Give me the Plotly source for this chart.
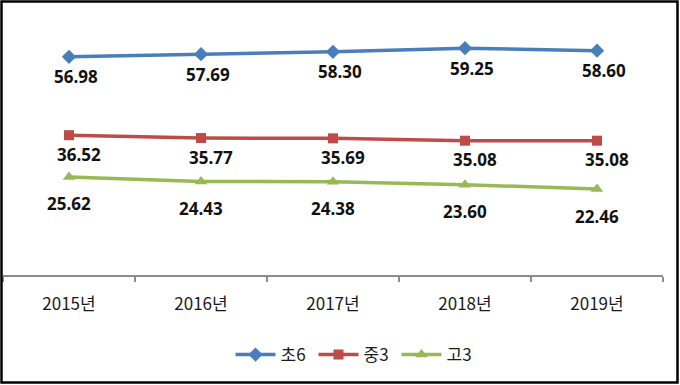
import plotly.graph_objects as go

years = ["2015년", "2016년", "2017년", "2018년", "2019년"]
s_cho6 = [56.98, 57.69, 58.30, 59.25, 58.60]
s_jung3 = [36.52, 35.77, 35.69, 35.08, 35.08]
s_go3 = [25.62, 24.43, 24.38, 23.60, 22.46]

# name, values, colour, marker symbol, marker size, label x-shift, label y-shift
series = [
    ("초6", s_cho6, "#4A7EBB", "diamond", 11, 7, -20),
    ("중3", s_jung3, "#BE4B48", "square", 10, 10, -19),
    ("고3", s_go3, "#98B954", "triangle-up", 11, 0, -27),
]

fig = go.Figure()
annotations = []
for name, vals, color, sym, msize, dx, dy in series:
    fig.add_trace(go.Scatter(
        x=years, y=vals, name=name, mode="lines+markers",
        line=dict(color=color, width=3.5),
        marker=dict(symbol=sym, size=msize, color=color),
        hoverinfo="skip",
    ))
    for yr, v in zip(years, vals):
        annotations.append(dict(
            x=yr, y=v, xref="x", yref="y", text=f"{v:.2f}", showarrow=False,
            xshift=dx, yshift=dy, xanchor="center", yanchor="middle",
            font=dict(family="Open Sans, Liberation Sans, sans-serif", size=17, color="#111111", weight="bold"),
        ))

L, R, T, B = 3, 17, 7, 110
W, H = 680, 385
pw, ph = W - L - R, H - T - B

def px_x(p):
    return (p - L) / pw

def px_y(p):
    return (H - B - p) / ph

fig.update_layout(
    width=W, height=H,
    margin=dict(l=L, r=R, t=T, b=B),
    paper_bgcolor="white", plot_bgcolor="white",
    showlegend=True,
    annotations=annotations,
    legend=dict(
        orientation="h", x=px_x(355), xanchor="center", y=px_y(355), yanchor="middle",
        font=dict(family="Noto Sans CJK KR, sans-serif", size=17, color="#1a1a1a"),
        itemwidth=40, tracegroupgap=0, entrywidth=28, entrywidthmode="pixels",
    ),
    xaxis=dict(
        type="category", showgrid=False, zeroline=False,
        showline=True, linecolor="#8C8C8C", linewidth=1.5,
        ticks="outside", tickson="boundaries", ticklen=5, tickcolor="#8C8C8C", tickwidth=1.5,
        tickfont=dict(family="Noto Sans CJK KR, sans-serif", size=17, color="#1a1a1a"),
        ticklabelstandoff=13,
        range=[-0.5, 4.5], fixedrange=True,
    ),
    yaxis=dict(range=[0, 70], visible=False, showgrid=False, zeroline=False, fixedrange=True),
    shapes=[dict(
        type="rect", xref="paper", yref="paper",
        x0=px_x(1.5), x1=px_x(677.5), y0=px_y(382.5), y1=px_y(1.5),
        line=dict(color="black", width=2.5), fillcolor="rgba(0,0,0,0)", layer="above",
    )],
)

fig.write_html(
    "out.html",
    config={"displayModeBar": False},
    post_script="document.body.style.margin='0';document.body.style.overflow='hidden';",
)
